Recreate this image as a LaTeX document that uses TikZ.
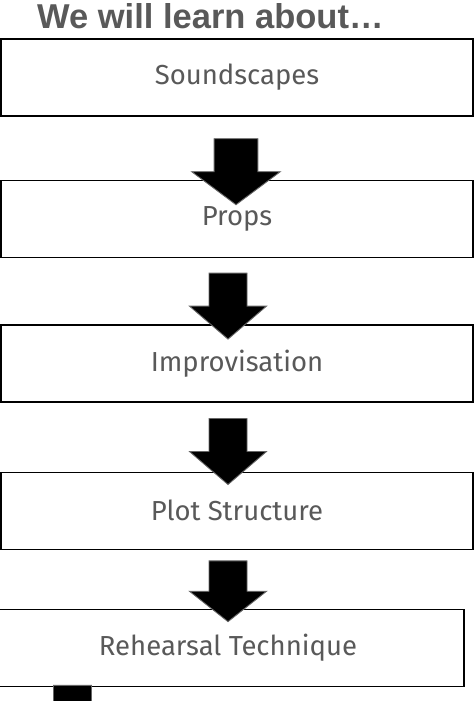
\documentclass[tikz,border=0pt]{standalone}
\usepackage{fontspec}
\setmainfont{Fira Sans}
\newfontfamily\headfont{Liberation Sans}
\usetikzlibrary{positioning, calc}
\definecolor{txtgray}{HTML}{595959}

\begin{document}
\begin{tikzpicture}[
    x=1pt, y=-1pt,
    topic/.style={draw=black, line width=1.4pt, minimum width=472pt, minimum height=77pt,
      text=txtgray, font=\fontsize{27.5}{32}\selectfont},
    heading/.style={text=txtgray, inner sep=0pt, font=\headfont\bfseries\fontsize{34.5}{38}\selectfont},
    blockarrow/.pic={
      \filldraw[fill=black, draw=black!60, line width=0.9pt]
        (-19,0) -- (19,0) -- (19,33) -- (38.5,33) -- (0,66) -- (-38.5,33) -- (-19,33) -- cycle;
    }
  ]
    \useasboundingbox[fill=white] (0,0) rectangle (476,701);
    \node[heading, anchor=base west] (title) at (37,29) {We will learn about\ldots};
    \node[topic] (sound) at (237,77.5) {Soundscapes};
    \node[topic, below=63pt of sound] (props) {Props};
    \node[topic, below=66pt of props] (impro) {Improvisation};
    \node[topic, below=69pt of impro] (plot) {Plot Structure};
    \node[topic, below=59pt of plot, xshift=-9pt] (rehearse) {Rehearsal Technique};
    % block arrows between the topics
    \pic[xscale=1.15] at ($(sound.south)+(-1,22)$) {blockarrow};
    \pic at ($(props.south)+(-9,15)$) {blockarrow};
    \pic at ($(impro.south)+(-9,16)$) {blockarrow};
    \pic[yscale=0.92] at ($(plot.south)+(-9,11)$) {blockarrow};
    \pic at ($(rehearse.south)+(-155.5,-2)$) {blockarrow};
  \end{tikzpicture}
\end{document}
